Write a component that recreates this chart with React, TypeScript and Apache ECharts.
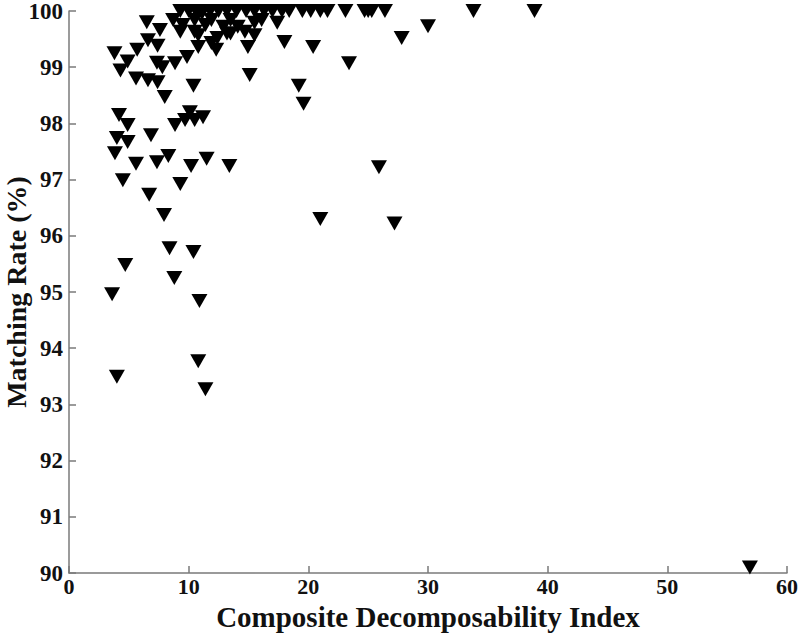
import React, { useEffect, useRef } from "react";
import * as echarts from "echarts";

const xTicks = [0, 10, 20, 30, 40, 50, 60];
const yTicks = [90, 91, 92, 93, 94, 95, 96, 97, 98, 99, 100];

// Composite Decomposability Index (x) and Matching Rate % (y)
const cdiValues = [
  56.9, 3.6, 4.0, 4.7, 7.94, 8.4, 10.4, 8.8, 10.9, 10.8, 11.4,
  3.84, 5.6, 7.35, 8.3, 10.2, 11.5, 13.4, 4.5, 9.3, 6.7, 21.0, 27.2, 25.9,
  4.18, 4.9, 6.85, 8.86, 10.1, 9.7, 10.5, 11.2, 4.0, 4.9, 8.0, 10.4,
  15.1, 19.2, 19.6, 23.4, 3.8, 5.7, 4.3, 4.9, 5.6, 6.6, 7.4, 7.35, 7.8,
  8.86, 9.86, 6.5, 7.6, 6.6, 7.4, 8.7, 9.3, 10.5, 10.8, 11.9, 12.3,
  11.4, 11.9, 10.5, 9.5, 11.1, 13.5, 14.95, 15.5, 18.0, 20.4, 13.5,
  14.1, 16.1, 17.4, 15.5, 12.9, 30.0, 27.8, 12.4, 14.7, 13.2, 10.8,
  9.3, 10.0, 10.6, 11.2, 11.8, 12.5, 13.2, 14.0, 14.8, 15.5, 16.3,
  17.0, 17.8, 18.4, 19.5, 20.2, 21.0, 21.6, 23.1, 24.7, 25.0, 25.3,
  26.4, 33.8, 38.9,
];
const matchingRates = [
  90.1, 94.96, 93.49, 95.48, 96.37, 95.78, 95.71, 95.25, 94.84, 93.77, 93.27,
  97.47, 97.28, 97.31, 97.42, 97.24, 97.37, 97.24, 96.99, 96.92, 96.73, 96.3, 96.22, 97.22,
  98.15, 97.97, 97.79, 97.97, 98.2, 98.06, 98.06, 98.11, 97.74, 97.67, 98.47, 98.67,
  98.86, 98.67, 98.35, 99.07, 99.25, 99.31, 98.94, 99.1, 98.8, 98.77, 98.73, 99.08, 99.0,
  99.07, 99.18, 99.8, 99.66, 99.48, 99.38, 99.84, 99.63, 99.63, 99.36, 99.43, 99.31,
  99.75, 99.84, 99.84, 99.75, 99.96, 99.6, 99.36, 99.57, 99.45, 99.36, 99.84,
  99.72, 99.84, 99.79, 99.79, 99.72, 99.73, 99.52, 99.52, 99.63, 99.6, 99.57,
  100, 100, 100, 100, 100, 100, 100, 100, 100, 100, 100,
  100, 100, 100, 100, 100, 100, 100, 100, 100, 100, 100,
  100, 100, 100,
];

const FONT = "'Liberation Serif', 'Times New Roman', serif";

export default function App() {
  const ref = useRef<HTMLDivElement>(null);
  useEffect(() => {
    if (!ref.current) return;
    const chart = echarts.init(ref.current, undefined, { renderer: "svg" });
    const data = cdiValues.map((x, i) => [x, matchingRates[i]]);
    chart.setOption({
      animation: false,
      backgroundColor: "#ffffff",
      grid: { left: 69, right: 13, top: 11, bottom: 64, containLabel: false, outerBoundsMode: "none" },
      xAxis: {
        type: "value",
        min: xTicks[0],
        max: xTicks[xTicks.length - 1],
        interval: 10,
        name: "Composite Decomposability Index",
        nameLocation: "middle",
        nameGap: 29,
        nameMoveOverlap: false,
        nameTextStyle: { fontFamily: FONT, fontWeight: "bold", fontSize: 29, color: "#111" },
        axisLine: { show: true, lineStyle: { color: "#7a7a7a", width: 1.5 } },
        axisTick: { show: true, inside: true, length: 7, lineStyle: { color: "#7a7a7a", width: 1.5 } },
        axisLabel: { fontFamily: FONT, fontWeight: "bold", fontSize: 22, color: "#111", margin: 2 },
        splitLine: { show: false },
      },
      yAxis: {
        type: "value",
        min: yTicks[0],
        max: yTicks[yTicks.length - 1],
        interval: 1,
        name: "Matching Rate (%)",
        nameLocation: "middle",
        nameGap: 39,
        nameMoveOverlap: false,
        nameTextStyle: { fontFamily: FONT, fontWeight: "bold", fontSize: 28, color: "#111" },
        axisLine: { show: true, lineStyle: { color: "#7a7a7a", width: 1.5 } },
        axisTick: { show: true, inside: true, length: 7, lineStyle: { color: "#7a7a7a", width: 1.5 } },
        axisLabel: { fontFamily: FONT, fontWeight: "bold", fontSize: 23, color: "#111", margin: 6 },
        splitLine: { show: false },
      },
      series: [
        {
          type: "scatter",
          data,
          clip: false,
          symbol: "triangle",
          symbolRotate: 180,
          symbolSize: [16, 14],
          itemStyle: { color: "#000000", opacity: 1 },
        },
      ],
    });
    return () => chart.dispose();
  }, []);
  return (
    <div
      ref={ref}
      style={{ position: "fixed", left: 0, top: 0, width: 800, height: 637, background: "#fff" }}
    />
  );
}
